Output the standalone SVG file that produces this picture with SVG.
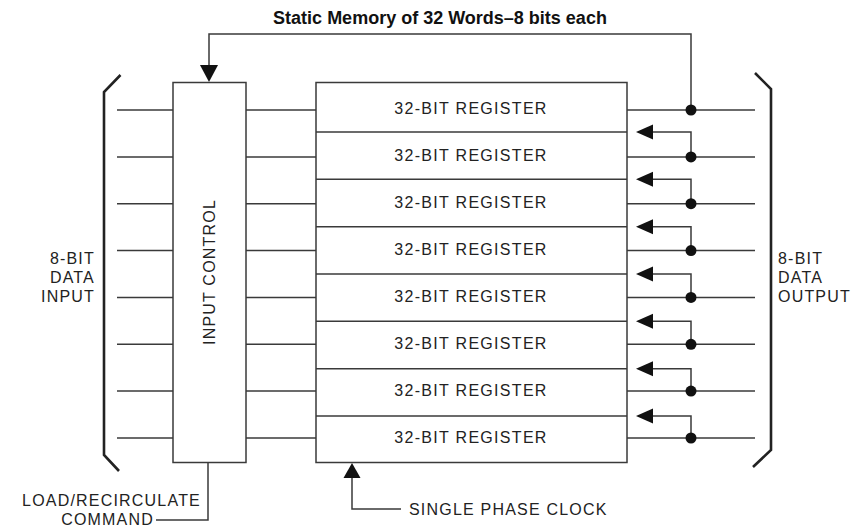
<svg xmlns="http://www.w3.org/2000/svg" width="864" height="528" viewBox="0 0 864 528">
<defs>
<style>
.ln{stroke:#3a3a3a;stroke-width:1.5;fill:none}
.bx{stroke:#3a3a3a;stroke-width:1.5;fill:#fff}
.br{stroke:#222;stroke-width:2.6;fill:none}
.ah{fill:#111;stroke:none}
.dot{fill:#111}
.t{font-family:"Liberation Sans",Arial,sans-serif;font-size:16px;letter-spacing:1.2px;fill:#222}
.reg{font-family:"Liberation Sans",Arial,sans-serif;font-size:16px;letter-spacing:1.3px;fill:#222;text-anchor:middle}
.title{font-family:"Liberation Sans",Arial,sans-serif;font-size:18px;font-weight:bold;fill:#111;text-anchor:middle}
</style>
</defs>
<rect width="864" height="528" fill="#fff"/>
<text class="title" x="440" y="24">Static Memory of 32 Words–8 bits each</text>

<g id="input-bracket">
<polyline class="br" points="120.5,75 104,92 104,455 119,471"/>
<text class="t" text-anchor="end" x="95" y="264">8-BIT</text>
<text class="t" text-anchor="end" x="95" y="283">DATA</text>
<text class="t" text-anchor="end" x="95" y="302">INPUT</text>
</g>

<g id="output-bracket">
<polyline class="br" points="755,73 771,89 771,450 753,467"/>
<text class="t" x="778" y="264">8-BIT</text>
<text class="t" x="778" y="283">DATA</text>
<text class="t" x="778" y="302">OUTPUT</text>
</g>

<g id="connectors">
<!-- input lines -->
<g class="ln">
<line x1="117" y1="110" x2="173" y2="110"/>
<line x1="117" y1="156.9" x2="173" y2="156.9"/>
<line x1="117" y1="203.7" x2="173" y2="203.7"/>
<line x1="117" y1="250.6" x2="173" y2="250.6"/>
<line x1="117" y1="297.4" x2="173" y2="297.4"/>
<line x1="117" y1="344.3" x2="173" y2="344.3"/>
<line x1="117" y1="391.1" x2="173" y2="391.1"/>
<line x1="117" y1="438" x2="173" y2="438"/>
<!-- control to registers -->
<line x1="246" y1="110" x2="316" y2="110"/>
<line x1="246" y1="156.9" x2="316" y2="156.9"/>
<line x1="246" y1="203.7" x2="316" y2="203.7"/>
<line x1="246" y1="250.6" x2="316" y2="250.6"/>
<line x1="246" y1="297.4" x2="316" y2="297.4"/>
<line x1="246" y1="344.3" x2="316" y2="344.3"/>
<line x1="246" y1="391.1" x2="316" y2="391.1"/>
<line x1="246" y1="438" x2="316" y2="438"/>
<!-- outputs -->
<line x1="627" y1="110" x2="755" y2="110"/>
<line x1="627" y1="156.9" x2="755" y2="156.9"/>
<line x1="627" y1="203.7" x2="755" y2="203.7"/>
<line x1="627" y1="250.6" x2="755" y2="250.6"/>
<line x1="627" y1="297.4" x2="755" y2="297.4"/>
<line x1="627" y1="344.3" x2="755" y2="344.3"/>
<line x1="627" y1="391.1" x2="755" y2="391.1"/>
<line x1="627" y1="438" x2="755" y2="438"/>
<!-- top feedback -->
<polyline points="691,110 691,34 209,34 209,68"/>
<!-- recirculate feedback -->
<polyline points="650,132 691,132 691,156.9"/>
<polyline points="650,179.3 691,179.3 691,203.7"/>
<polyline points="650,226.7 691,226.7 691,250.6"/>
<polyline points="650,274 691,274 691,297.4"/>
<polyline points="650,321.3 691,321.3 691,344.3"/>
<polyline points="650,368.7 691,368.7 691,391.1"/>
<polyline points="650,416 691,416 691,438"/>
<!-- command -->
<polyline points="208,462 208,520 156,520"/>
<!-- clock -->
<polyline points="352,476 352,509 401,509"/>
</g>
<g class="ah">
<polygon points="200,65 218,65 209,82"/>
<polygon points="636,132 653,124.5 653,139.5"/>
<polygon points="636,179.3 653,171.8 653,186.8"/>
<polygon points="636,226.7 653,219.2 653,234.2"/>
<polygon points="636,274 653,266.5 653,281.5"/>
<polygon points="636,321.3 653,313.8 653,328.8"/>
<polygon points="636,368.7 653,361.2 653,376.2"/>
<polygon points="636,416 653,408.5 653,423.5"/>
<polygon points="352,463 343.5,478 360.5,478"/>
</g>
<g class="dot">
<circle cx="691" cy="110" r="5.5"/>
<circle cx="691" cy="156.9" r="5.5"/>
<circle cx="691" cy="203.7" r="5.5"/>
<circle cx="691" cy="250.6" r="5.5"/>
<circle cx="691" cy="297.4" r="5.5"/>
<circle cx="691" cy="344.3" r="5.5"/>
<circle cx="691" cy="391.1" r="5.5"/>
<circle cx="691" cy="438" r="5.5"/>
</g>
</g>

<g id="input-control">
<rect class="bx" x="173" y="82.5" width="73" height="380"/>
<text class="t" text-anchor="middle" transform="translate(215,272) rotate(-90)">INPUT CONTROL</text>
</g>

<g id="registers">
<rect class="bx" x="316" y="82.5" width="311" height="380"/>
<g class="ln">
<line x1="316" y1="132" x2="627" y2="132"/>
<line x1="316" y1="179.3" x2="627" y2="179.3"/>
<line x1="316" y1="226.7" x2="627" y2="226.7"/>
<line x1="316" y1="274" x2="627" y2="274"/>
<line x1="316" y1="321.3" x2="627" y2="321.3"/>
<line x1="316" y1="368.7" x2="627" y2="368.7"/>
<line x1="316" y1="416" x2="627" y2="416"/>
</g>
<text class="reg" x="471" y="114">32-BIT REGISTER</text>
<text class="reg" x="471" y="161">32-BIT REGISTER</text>
<text class="reg" x="471" y="208">32-BIT REGISTER</text>
<text class="reg" x="471" y="255">32-BIT REGISTER</text>
<text class="reg" x="471" y="302">32-BIT REGISTER</text>
<text class="reg" x="471" y="349">32-BIT REGISTER</text>
<text class="reg" x="471" y="396">32-BIT REGISTER</text>
<text class="reg" x="471" y="443">32-BIT REGISTER</text>
</g>

<g id="command-label">
<text class="t" text-anchor="end" x="201" y="506">LOAD/RECIRCULATE</text>
<text class="t" text-anchor="end" x="154" y="525">COMMAND</text>
</g>
<g id="clock-label">
<text class="t" x="409" y="515">SINGLE PHASE CLOCK</text>
</g>
</svg>
